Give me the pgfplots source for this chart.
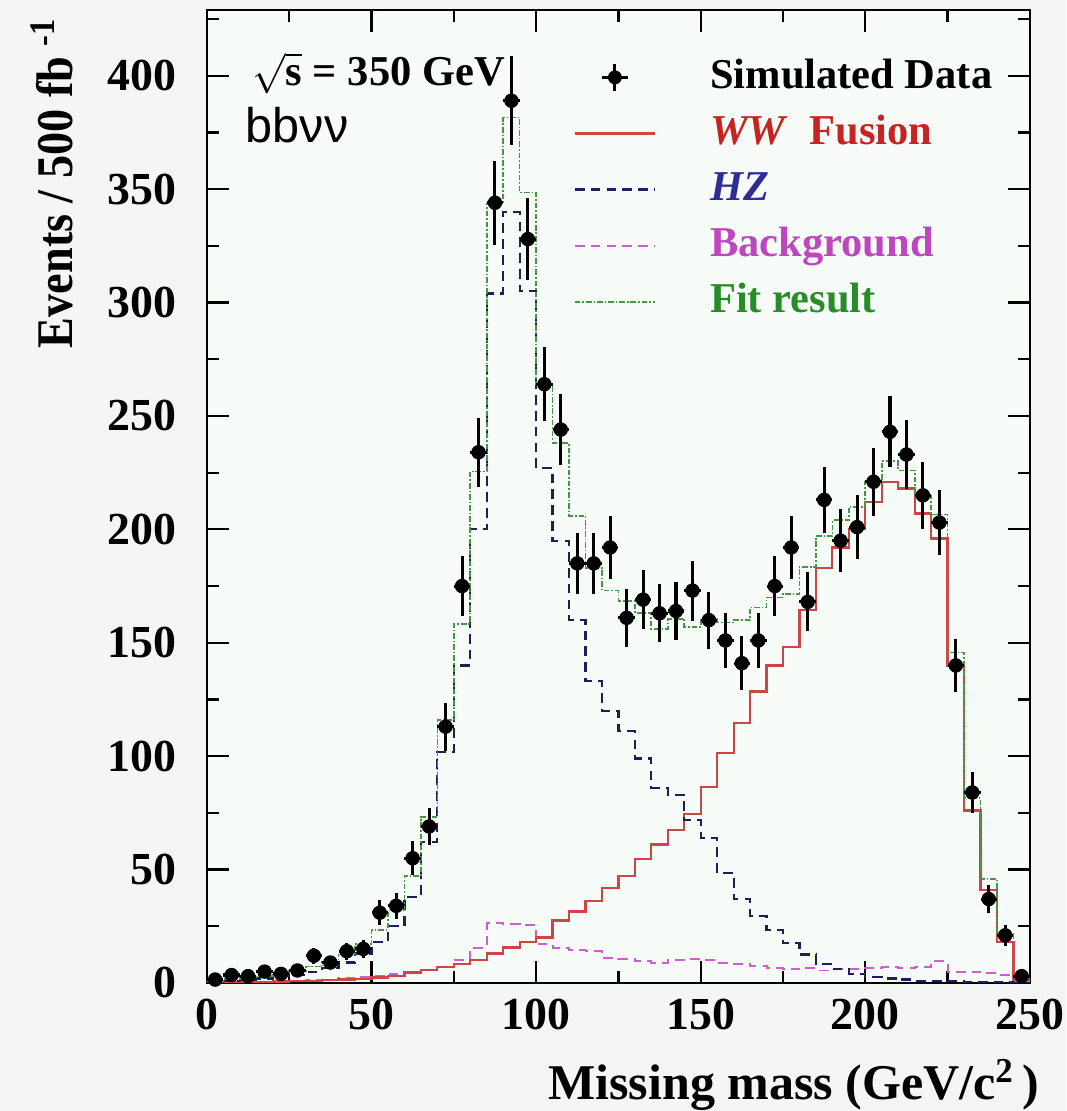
\documentclass[border=0pt]{standalone}
\usepackage{pgfplots}
\pgfplotsset{compat=1.18}
\usepackage{pgfplotstable}
\usepackage{graphicx}
\usepackage{fontspec}
\setmainfont{Liberation Serif}
\newfontfamily\arialfont{Liberation Sans}

\definecolor{wwred}{RGB}{205,70,70}
\definecolor{wwtext}{RGB}{200,35,35}
\definecolor{hzblue}{RGB}{30,30,90}
\definecolor{hztext}{RGB}{45,45,150}
\definecolor{bgmag}{RGB}{205,95,205}
\definecolor{bgtext}{RGB}{190,70,190}
\definecolor{fitgreen}{RGB}{70,150,70}
\definecolor{fittext}{RGB}{40,140,40}
\definecolor{paper}{RGB}{244,246,244}
\definecolor{frame}{RGB}{248,252,248}

% Histogram contents per 5 GeV bin (left bin edge), last row closes the final bin
\pgfplotstableread{
lo   ww     hz     bg     fit
0    0.2    0.5    0.3    1.0
5    0.3    1.0    0.4    1.7
10   0.4    1.5    0.5    2.4
15   0.5    2.0    0.6    3.1
20   0.6    3.0    0.8    4.4
25   0.8    3.5    1.0    5.3
30   1.0    5.0    1.2    7.2
35   1.2    6.5    1.5    9.2
40   1.5    9.0    2.0    12.5
45   1.8    13.0   2.5    17.3
50   2.4    18.0   3.0    23.4
55   3.0    25.0   4.0    32.0
60   4.6    38.0   4.5    47.1
65   5.8    62.0   5.5    73.3
70   6.9    102.0  7.0    115.9
75   8.4    140.0  10.0   158.4
80   10.0   200.0  15.5   225.5
85   13.0   304.0  26.5   343.5
90   15.6   340.0  26.0   381.6
95   18.0   305.0  25.5   348.5
100  20.0   227.0  17.0   264.0
105  27.5   195.0  15.5   238.0
110  31.5   160.0  14.5   206.0
115  36.0   133.0  14.0   183.0
120  42.0   120.0  11.0   173.0
125  47.0   111.0  10.5   168.5
130  54.5   99.0   9.5    163.0
135  61.0   86.0   9.0    156.0
140  67.5   83.0   10.0   160.5
145  74.5   72.0   10.5   157.0
150  86.5   64.0   10.0   160.5
155  101.5  48.5   9.0    159.0
160  114.5  37.0   8.5    160.0
165  128.5  29.5   7.5    165.5
170  140.0  23.5   6.5    170.0
175  148.0  17.5   6.0    171.5
180  164.5  12.5   6.5    183.5
185  183.0  8.5    5.5    197.0
190  192.0  6.0    6.0    204.0
195  200.0  4.0    6.0    210.0
200  212.0  2.5    6.5    221.0
205  221.0  2.0    7.0    230.0
210  218.0  1.5    6.5    226.0
215  207.0  1.0    7.0    215.0
220  196.0  1.0    9.5    206.5
225  140.0  0.7    5.0    145.7
230  76.0   0.5    5.0    81.5
235  41.0   0.3    4.5    45.8
240  18.0   0.2    3.5    21.7
245  1.5    0.1    1.0    2.6
250  1.5    0.1    1.0    2.6
}\histtab

% Simulated data: bin centre, events, statistical error
\pgfplotstableread{
x      y     e
2.5    1.5   1.2
7.5    3.5   1.9
12.5   3.0   1.7
17.5   5.0   2.2
22.5   4.0   2.0
27.5   5.5   2.3
32.5   12    3.5
37.5   9     3.0
42.5   14    3.7
47.5   15    3.9
52.5   31    5.6
57.5   34    5.8
62.5   55    7.4
67.5   69    8.3
72.5   113   10.6
77.5   175   13.2
82.5   234   15.3
87.5   344   18.5
92.5   389   19.7
97.5   328   18.1
102.5  264   16.2
107.5  244   15.6
112.5  185   13.6
117.5  185   13.6
122.5  192   13.9
127.5  161   12.7
132.5  169   13.0
137.5  163   12.8
142.5  164   12.8
147.5  173   13.2
152.5  160   12.6
157.5  151   12.3
162.5  141   11.9
167.5  151   12.3
172.5  175   13.2
177.5  192   13.9
182.5  168   13.0
187.5  213   14.6
192.5  195   14.0
197.5  201   14.2
202.5  221   14.9
207.5  243   15.6
212.5  233   15.3
217.5  215   14.7
222.5  203   14.2
227.5  140   11.8
232.5  84    9.2
237.5  37    6.1
242.5  21    4.6
247.5  3     1.7
}\datatab

\begin{document}
\begin{tikzpicture}
\fill[paper] (-74.5pt,-46.1pt) rectangle (309.3pt,353.9pt);
\path[use as bounding box] (-74.5pt,-46.1pt) rectangle (309.3pt,353.9pt);
\begin{axis}[
  at={(0pt,0pt)}, anchor=origin,
  scale only axis, width=296.3pt, height=350.3pt,
  xmin=0, xmax=250, ymin=0, ymax=429,
  axis background/.style={fill=frame},
  xtick={0,50,...,250}, minor xtick={25,75,...,225},
  ytick={0,50,...,400}, minor ytick={25,75,...,425},
  tick align=inside,
  major tick length=8pt, minor tick length=4.3pt,
  axis line style={line width=0.9pt, black},
  tick style={line width=0.8pt, black},
  /pgf/number format/assume math mode=true,
  ticklabel style={font=\fontsize{16.5}{18}\selectfont\bfseries},
  xticklabel style={yshift=-2.3pt},
  yticklabel style={xshift=-7.5pt},
  legend style={at={(0.435,0.957)}, anchor=north west, draw=none, fill=none,
    row sep=6.2pt, column sep=19.5pt,
    nodes={inner sep=0pt, text height=11pt, text depth=3pt},
    font=\fontsize{15.3}{17}\selectfont\bfseries},
  legend cell align=left,
  legend image code/.code={\draw[#1] (0pt,0pt) -- (28.8pt,0pt);},
]
% legend samples
\addlegendimage{legend image code/.code={
  \draw[line width=1.1pt] (14.4pt,-4.8pt) -- (14.4pt,4.8pt);
  \draw[line width=1.1pt] (9.6pt,0pt) -- (19.2pt,0pt);
  \fill (14.4pt,0pt) circle (2.3pt);}}
\addlegendentry{Simulated Data}
\addlegendimage{wwred, line width=0.8pt}
\addlegendentry{\textcolor{wwtext}{\textit{WW}\ \ Fusion}}
\addlegendimage{hzblue, line width=0.8pt, dash pattern=on 3.5pt off 2.2pt}
\addlegendentry{\textcolor{hztext}{\textit{HZ}}}
\addlegendimage{bgmag, line width=0.7pt, dash pattern=on 3.5pt off 2.2pt}
\addlegendentry{\textcolor{bgtext}{Background}}
\addlegendimage{fitgreen, line width=0.6pt, dash pattern=on 2pt off 0.7pt on 0.6pt off 0.7pt}
\addlegendentry{\textcolor{fittext}{Fit result}}

% stacked components and total fit as step histograms
\addplot[forget plot, const plot, bgmag, line width=0.7pt, dash pattern=on 3.5pt off 2.2pt]
  table[x=lo, y=bg] {\histtab};
\addplot[forget plot, const plot, wwred, line width=0.8pt]
  table[x=lo, y=ww] {\histtab};
\addplot[forget plot, const plot, hzblue, line width=0.8pt, dash pattern=on 3.5pt off 2.2pt]
  table[x=lo, y=hz] {\histtab};
\addplot[forget plot, const plot, fitgreen, line width=0.6pt, dash pattern=on 2pt off 0.7pt on 0.6pt off 0.7pt]
  table[x=lo, y=fit] {\histtab};

% simulated data with statistical errors
\addplot[forget plot, only marks, mark=*, mark size=2.4pt, black,
  error bars/.cd, x dir=both, x fixed=2.5, y dir=both, y explicit,
  error mark=none, error bar style={line width=1.1pt, black}]
  table[x=x, y=y, y error=e] {\datatab};
\end{axis}

\node[anchor=west, inner sep=0pt, font=\fontsize{15.3}{17}\selectfont\bfseries]
  at (16.2pt,327.5pt) {$\sqrt{\mbox{\bfseries s}}$\ = 350 GeV};
\node[anchor=base west, inner sep=0pt, font=\arialfont\fontsize{17.5}{19}\selectfont]
  at (13.8pt,302.5pt) {bbνν};
\node[rotate=90, anchor=east, inner sep=0pt, font=\fontsize{18.5}{20}\selectfont\bfseries]
  at (-55.8pt,347.5pt) {\scalebox{0.9}[1]{Events / 500 fb\hspace{4pt}\textsuperscript{-1}}};
\node[anchor=east, inner sep=0pt, font=\fontsize{18}{20}\selectfont\bfseries]
  at (299.9pt,-36.7pt) {Missing mass (GeV/c\textsuperscript{2}\,)};
\end{tikzpicture}
\end{document}
